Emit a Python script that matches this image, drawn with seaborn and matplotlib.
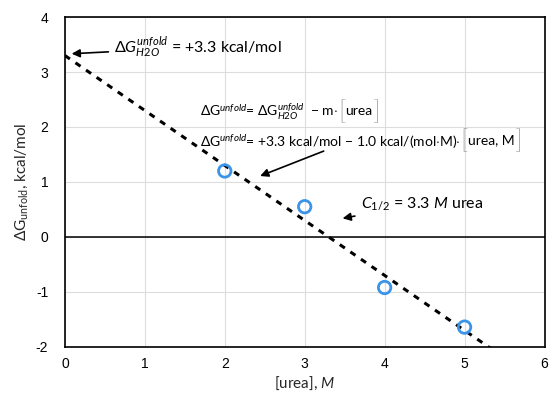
import numpy as np
import pandas as pd
import seaborn as sns
import matplotlib.pyplot as plt

# --- data ---
urea = [2, 3, 4, 5]
dg_unfold = [1.2, 0.55, -0.92, -1.64]
fit_intercept = 3.3
fit_slope = -1.0
x_ticks = [0, 1, 2, 3, 4, 5, 6]
y_ticks = [-2, -1, 0, 1, 2, 3, 4]

df = pd.DataFrame({'urea': urea, 'dg': dg_unfold})
fit_x = np.array([0, 6])
fit = pd.DataFrame({'urea': fit_x, 'dg': fit_intercept + fit_slope * fit_x})

sns.set_theme(style='whitegrid')
plt.rcParams['font.family'] = ['Liberation Sans', 'DejaVu Sans']
plt.rcParams['mathtext.fontset'] = 'custom'
plt.rcParams['mathtext.rm'] = 'Lato'
plt.rcParams['mathtext.it'] = 'Lato:italic'
plt.rcParams['axes.unicode_minus'] = False

fig = plt.figure(figsize=(5.5, 3.96), dpi=100)
ax = fig.add_axes([0.118, 0.124, 0.872, 0.833])

sns.lineplot(data=fit, x='urea', y='dg', ax=ax, color='black', lw=2.2,
             linestyle=(0, (2, 2.2)), zorder=3)
sns.scatterplot(data=df, x='urea', y='dg', ax=ax, s=80, marker='o',
                facecolor='none', edgecolor='#3b94e8', linewidth=2, zorder=4)
ax.axhline(0, color='black', lw=1.1, zorder=2)

ax.set_xlim(0, 6)
ax.set_ylim(-2, 4)
ax.set_xticks(x_ticks)
ax.set_yticks(y_ticks)
ax.grid(True, color='#dddddd', lw=0.8)
for s in ax.spines.values():
    s.set_color('black')
    s.set_linewidth(1.2)
ax.tick_params(direction='in', length=4, width=1, color='#333333',
               labelsize=10, labelcolor='black', pad=7)
ax.tick_params(axis='y', pad=12)

ax.set_xlabel(r'[urea], $\it{M}$', fontsize=11, family='Lato', labelpad=3)
ax.set_ylabel(r'$\Delta$G$_{\mathrm{unfold}}$, kcal/mol', fontsize=11,
              family='Lato', labelpad=4)

tkw = dict(family='Lato', color='black')
akw = dict(arrowstyle='-|>', color='black', lw=1.2, mutation_scale=12)
ax.annotate(r'$\Delta G^{unfold}_{H2O}$ = +3.3 kcal/mol',
            xy=(0.05, 3.33), xytext=(0.62, 3.45), fontsize=11.5, va='center',
            arrowprops=akw, **tkw)


def bracket_line(x, y, head, inner, size=10):
    # text, then tall square brackets around the last term
    t = ax.text(x, y, head, fontsize=size, va='center', **tkw)
    b1 = ax.annotate('[', xy=(1, 0.5), xycoords=t, xytext=(0, 0),
                     textcoords='offset points', fontsize=size * 1.9,
                     va='center', ha='left', fontweight='light', **tkw)
    t2 = ax.annotate(inner, xy=(1, 0.5), xycoords=b1, xytext=(0, 1),
                     textcoords='offset points', fontsize=size,
                     va='center', ha='left', **tkw)
    ax.annotate(']', xy=(1, 0.5), xycoords=t2, xytext=(0, -1),
                textcoords='offset points', fontsize=size * 1.9,
                va='center', ha='left', fontweight='light', **tkw)


bracket_line(1.69, 2.27,
             r'$\Delta\mathrm{G}^{unfold}$= $\Delta\mathrm{G}^{unfold}_{H2O}$  $-$ m$\cdot$',
             'urea')
bracket_line(1.69, 1.73,
             r'$\Delta\mathrm{G}^{unfold}$= +3.3 kcal/mol $-$ 1.0 kcal/(mol$\cdot$M)$\cdot$',
             'urea, M')
ax.annotate('', xy=(2.41, 1.09), xytext=(3.27, 1.58), arrowprops=akw)
ax.annotate(r'$C_{1/2}$ = 3.3 $M$ urea', xy=(3.44, 0.33), xytext=(3.7, 0.6),
            fontsize=11.5, va='center', arrowprops=akw, **tkw)

fig.savefig('out.png', dpi=100)
